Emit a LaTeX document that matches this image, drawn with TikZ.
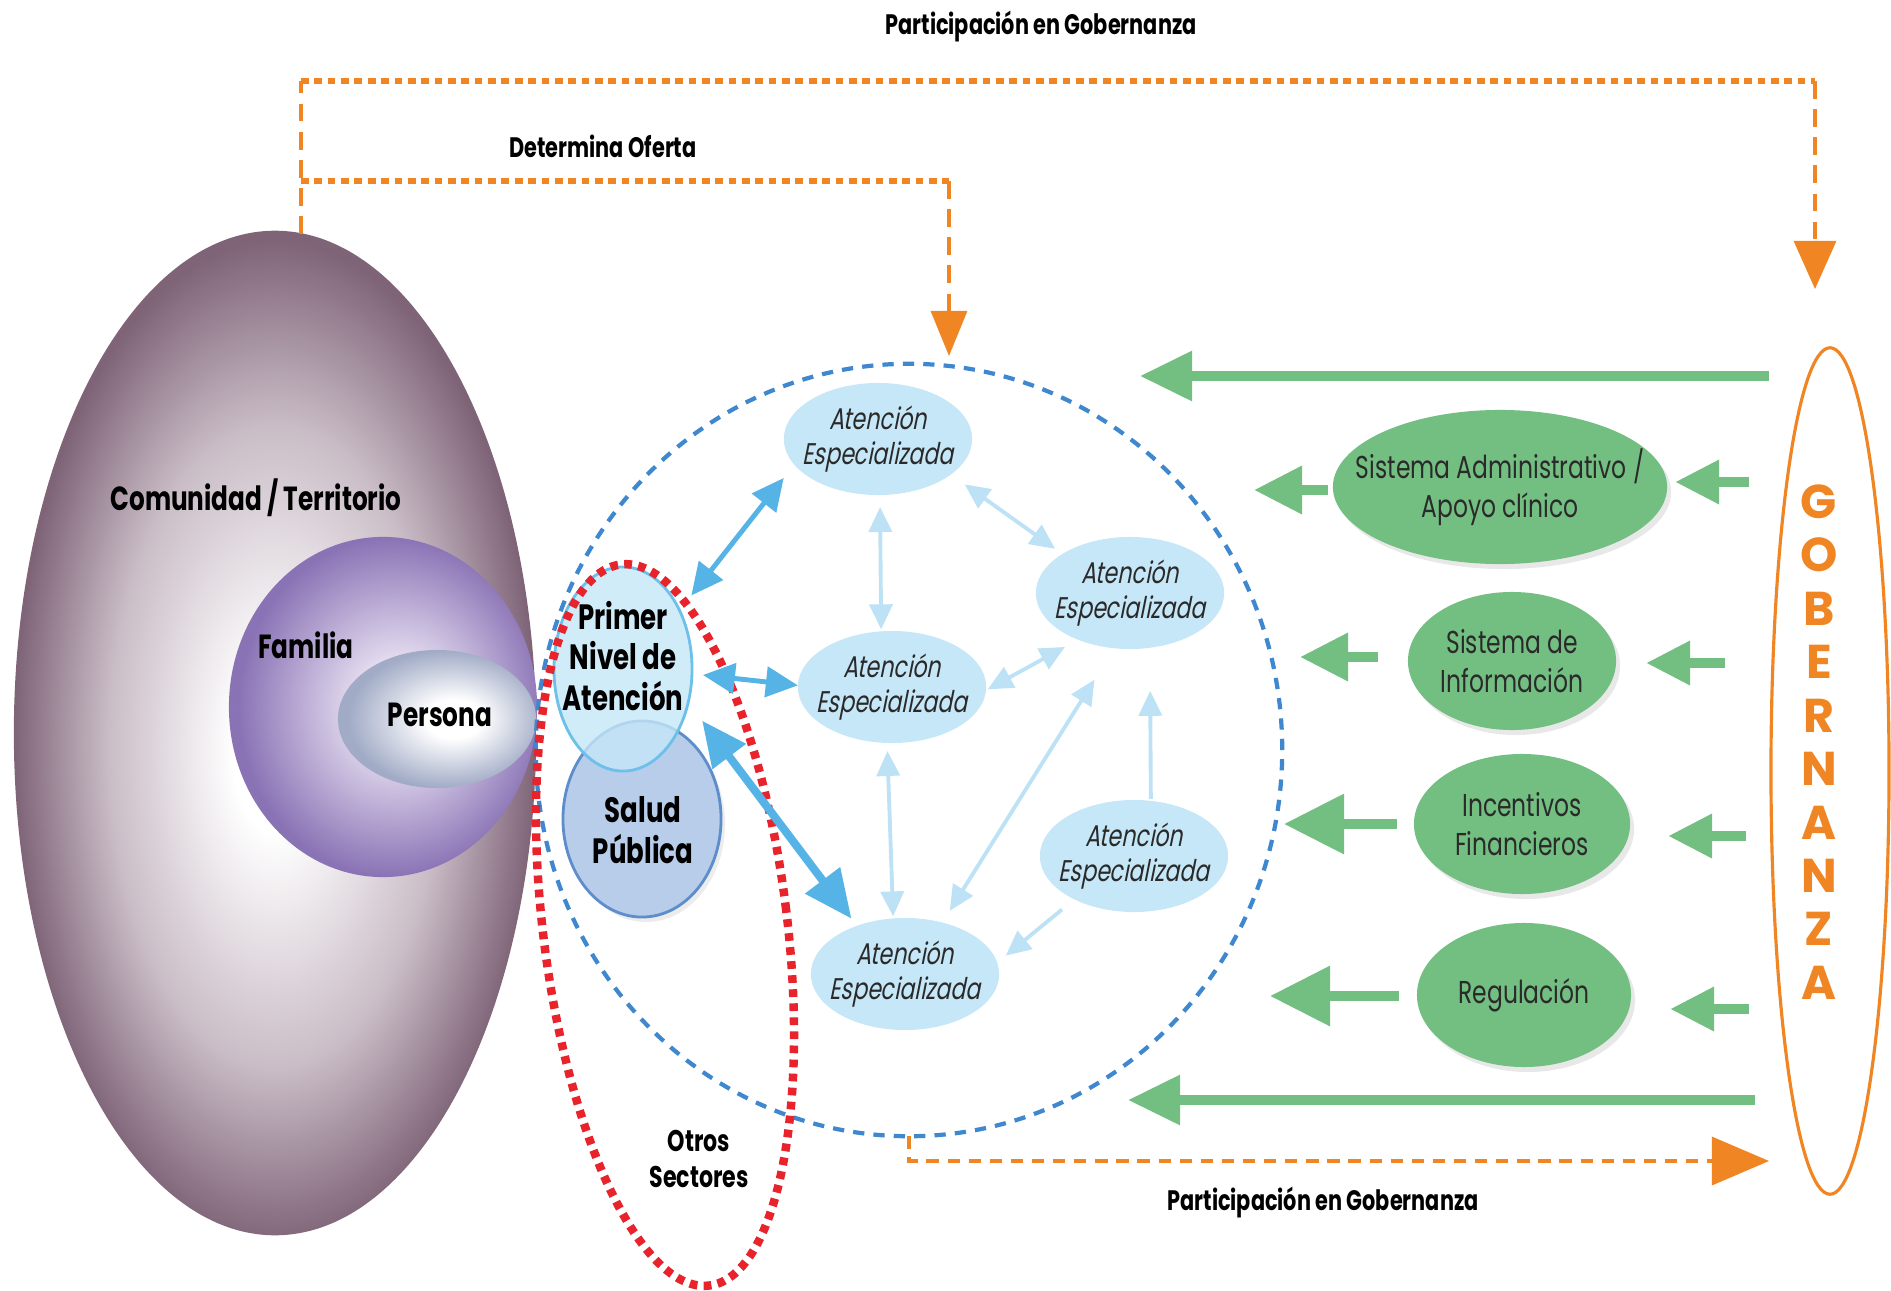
\documentclass[tikz,border=0pt]{standalone}
\usepackage{fontspec}
\setmainfont[FakeStretch=0.74]{Poppins}
\newfontfamily\slantfont[FakeSlant=0.2,FakeStretch=0.74]{Poppins}
\newfontfamily\wideFont{Poppins}
\usepackage{tikz}
\usetikzlibrary{arrows.meta, shapes.geometric, shadows, positioning}

\definecolor{comEdge}{HTML}{7F6478}
\definecolor{comMid}{HTML}{C9BCC6}
\definecolor{famEdge}{HTML}{8A73B5}
\definecolor{famIn}{HTML}{EEE8F6}
\definecolor{perEdge}{HTML}{A1ABC6}
\definecolor{atBlue}{HTML}{C6E7F7}
\definecolor{softBlue}{HTML}{BEE2F5}
\definecolor{primEdge}{HTML}{6DC0EA}
\definecolor{arrBlue}{HTML}{56B3E5}
\definecolor{circBlue}{HTML}{3F87CF}
\definecolor{salBlue}{HTML}{B7CDE9}
\definecolor{salEdge}{HTML}{5E8DCB}
\definecolor{secRed}{HTML}{E8232B}
\definecolor{govOrange}{HTML}{EF8523}
\definecolor{supGreen}{HTML}{73BF82}
\definecolor{txtGrey}{HTML}{2A2A2A}

\pgfdeclareradialshading{comShade}{\pgfpoint{0bp}{-1bp}}{color(0bp)=(white); color(4bp)=(white); color(16bp)=(comMid); color(25bp)=(comEdge); color(50bp)=(comEdge)}
\pgfdeclareradialshading{famShade}{\pgfpoint{3bp}{0bp}}{color(0bp)=(famIn); color(5bp)=(famIn); color(25bp)=(famEdge); color(50bp)=(famEdge)}
\pgfdeclareradialshading{perShade}{\pgfpoint{5bp}{0bp}}{color(0bp)=(white); color(7bp)=(white); color(25bp)=(perEdge); color(50bp)=(perEdge)}

\tikzset{
	blob/.style={ellipse, inner sep=0pt, outer sep=0pt},
	atNode/.style={blob, fill=atBlue, inner xsep=-0.09cm, minimum width=1.88cm, minimum height=1.12cm, align=center, text=txtGrey, font=\slantfont\fontsize{8.5}{10}\selectfont},
	supNode/.style={blob, fill=supGreen, align=center, text=txtGrey, font=\fontsize{9}{11}\selectfont, drop shadow={opacity=0.18, shadow xshift=0.04cm, shadow yshift=-0.05cm}},
	tag/.style={font=\bfseries\fontsize{8}{10}\selectfont, text=black, align=center},
	bigTag/.style={font=\bfseries\fontsize{9.5}{11.5}\selectfont, text=black, align=center},
	govLetters/.style={font=\wideFont\bfseries\fontsize{13.5}{15.2}\selectfont, text=govOrange, align=center},
	strongLink/.style={draw=arrBlue, line width=1.4pt, {Triangle[length=0.32cm, width=0.30cm]}-{Triangle[length=0.32cm, width=0.30cm]}},
	heavyLink/.style={draw=arrBlue, line width=2.3pt, {Triangle[length=0.45cm, width=0.40cm]}-{Triangle[length=0.48cm, width=0.42cm]}},
	softLink/.style={draw=softBlue, line width=1.1pt, {Triangle[length=0.25cm, width=0.23cm]}-{Triangle[length=0.25cm, width=0.23cm]}},
	softOne/.style={draw=softBlue, line width=1.1pt, -{Triangle[length=0.25cm, width=0.23cm]}},
	supArrow/.style={draw=supGreen, line width=2.8pt, -{Triangle[length=0.48cm, width=0.46cm]}},
	supIn/.style={draw=supGreen, line width=2.8pt, -{Triangle[length=0.44cm, width=0.42cm]}},
	supBig/.style={draw=supGreen, line width=2.8pt, -{Triangle[length=0.60cm, width=0.58cm]}},
	longArrow/.style={draw=supGreen, line width=2.6pt, -{Triangle[length=0.52cm, width=0.48cm]}},
	govLine/.style={draw=govOrange, line width=0.9pt, dash pattern=on 5pt off 3pt},
	govDots/.style={draw=govOrange, line width=1.5pt, dash pattern=on 2.2pt off 1.6pt}
}

\begin{document}
\begin{tikzpicture}[x=0.01cm, y=-0.01cm]
	\useasboundingbox (0, 0) rectangle (1891, 1291);

	\node (Comunidad) [blob, shade, shading=comShade, minimum width=5.22cm, minimum height=10.04cm] at (275, 733) {};
	\node (Familia) [blob, shade, shading=famShade, minimum width=3.08cm, minimum height=3.40cm] at (383, 707) {};
	\node (Persona) [blob, shade, shading=perShade, minimum width=1.98cm, minimum height=1.38cm] at (437, 719) {};
	\node (ComLabel) [bigTag] at (256, 498) {Comunidad / Territorio};
	\node (FamLabel) [bigTag] at (306, 645) {Familia};
	\node (PerLabel) [bigTag] at (440, 715) {Persona};

	\node (Salud) [blob, fill=salBlue, draw=salEdge, line width=0.8pt, minimum width=1.58cm, minimum height=1.96cm, drop shadow={opacity=0.15, shadow xshift=0.04cm, shadow yshift=-0.05cm}] at (642, 819) {};
	\node (Primer) [blob, fill=atBlue, fill opacity=0.8, draw=primEdge, line width=0.8pt, minimum width=1.38cm, minimum height=2.04cm] at (623, 669) {};
	\node (PrimerLabel) [bigTag, font=\bfseries\fontsize{10}{11.5}\selectfont] at (623, 656) {Primer\\Nivel de\\Atención};
	\node (SaludLabel) [bigTag, font=\bfseries\fontsize{10}{11.5}\selectfont] at (643, 830) {Salud\\Pública};

	\node (Integra) [blob, draw=circBlue, line width=1.2pt, dash pattern=on 3.2pt off 2.6pt, minimum width=7.46cm, minimum height=7.72cm] at (909, 750) {};
	\node (Sectores) [blob, draw=secRed, line width=2.4pt, dash pattern=on 2.2pt off 1.8pt, minimum width=2.44cm, minimum height=7.26cm, rotate=7] at (665, 925) {};
	\node (SecLabel) [tag, font=\bfseries\fontsize{8.5}{10.2}\selectfont] at (699, 1159) {Otros\\Sectores};

	\node (AtEspA) [atNode] at (878, 439) {Atención\\Especializada};
	\node (AtEspB) [atNode] at (1130, 593) {Atención\\Especializada};
	\node (AtEspC) [atNode] at (892, 687) {Atención\\Especializada};
	\node (AtEspD) [atNode] at (1134, 856) {Atención\\Especializada};
	\node (AtEspE) [atNode] at (905, 974) {Atención\\Especializada};

	\draw [strongLink, shorten <=0.19cm, shorten >=0.17cm] (Primer.46) -- (AtEspA.197);
	\draw [strongLink, shorten <=0.11cm] (Primer.-4) -- (AtEspC.179);
	\draw [heavyLink, shorten <=0.23cm, shorten >=0.09cm] (Primer.-27) -- (AtEspE.135);
	\draw [softLink, shorten <=0.12cm, shorten >=0.02cm] (AtEspA.-88) -- (AtEspC.101);
	\draw [softLink, shorten <=0.17cm, shorten >=0.09cm] (AtEspA.-26) -- (AtEspB.150);
	\draw [softLink, shorten <=0.02cm, shorten >=0.15cm] (AtEspC.-2) -- (AtEspB.222);
	\draw [softLink, shorten <=0.08cm, shorten >=0.02cm] (AtEspC.-95) -- (AtEspE.102);
	\draw [softLink, shorten <=0.14cm, shorten >=0.37cm] (AtEspE.54) -- (AtEspB.254);
	\draw [softOne, shorten <=0.02cm, shorten >=0.43cm] (AtEspD.73) -- (AtEspB.-70);
	\draw [softOne, shorten <=0.16cm, shorten >=0.11cm] (AtEspD.216) -- (AtEspE.7);

	\node (SisAdmin) [supNode, inner xsep=-0.26cm, minimum width=3.24cm, minimum height=1.54cm] at (1500, 487) {Sistema Administrativo /\\Apoyo clínico};
	\node (SisInfo) [supNode, minimum width=2.08cm, minimum height=1.38cm] at (1512, 661) {Sistema de\\Información};
	\node (Incent) [supNode, minimum width=2.16cm, minimum height=1.40cm] at (1522, 824) {Incentivos\\Financieros};
	\node (Regul) [supNode, minimum width=2.14cm, minimum height=1.44cm] at (1524, 995) {Regulación};

	\node (Gob) [blob, draw=govOrange, line width=0.9pt, minimum width=1.18cm, minimum height=8.46cm] at (1830, 771) {};
	\node (GobLabel) [govLetters] at (1819, 742) {G\\O\\B\\E\\R\\N\\A\\N\\Z\\A};

	\coordinate (AdminOut) at (1254, 490);
	\coordinate (InfoOut) at (1300, 657);
	\coordinate (IncentOut) at (1284, 824);
	\coordinate (RegulOut) at (1270, 996);
	\draw [supArrow, shorten <=0.05cm] (SisAdmin.west |- AdminOut) -- (AdminOut);
	\draw [supArrow, shorten <=0.30cm] (SisInfo.west |- InfoOut) -- (InfoOut);
	\draw [supBig, shorten <=0.17cm] (Incent.west |- IncentOut) -- (IncentOut);
	\draw [supBig, shorten <=0.18cm] (Regul.west |- RegulOut) -- (RegulOut);

	\coordinate (AdminIn) at (1749, 482);
	\coordinate (InfoIn) at (1725, 663);
	\coordinate (IncentIn) at (1746, 836);
	\coordinate (RegulIn) at (1749, 1009);
	\draw [supIn, shorten >=0.08cm] (AdminIn) -- (AdminIn -| SisAdmin.east);
	\draw [supIn, shorten >=0.30cm] (InfoIn) -- (InfoIn -| SisInfo.east);
	\draw [supIn, shorten >=0.38cm] (IncentIn) -- (IncentIn -| Incent.east);
	\draw [supIn, shorten >=0.39cm] (RegulIn) -- (RegulIn -| Regul.east);

	\coordinate (GovTopOut) at (1769, 376);
	\coordinate (GovTopIn) at (1140, 376);
	\draw [longArrow] (GovTopOut) -- (GovTopIn);
	\coordinate (GovBotOut) at (1755, 1100);
	\coordinate (GovBotIn) at (1128, 1100);
	\draw [longArrow] (GovBotOut) -- (GovBotIn);

	\coordinate (ComTop) at (301, 234);
	\coordinate (TopLeft) at (301, 81);
	\coordinate (TopRight) at (1815, 81);
	\coordinate (GovTip) at (1815, 289);
	\draw [govLine] (ComTop) -- (TopLeft);
	\draw [govDots] (TopLeft) -- (TopRight);
	\draw [govLine, -{Triangle[length=0.48cm, width=0.42cm]}] (TopRight) -- (GovTip);

	\coordinate (OfferLeft) at (301, 181);
	\coordinate (OfferRight) at (949, 181);
	\coordinate (OfferTip) at (949, 356);
	\draw [govDots] (OfferLeft) -- (OfferRight);
	\draw [govLine, -{Triangle[length=0.45cm, width=0.36cm]}] (OfferRight) -- (OfferTip);

	\coordinate (GovIn) at (1769, 1161);
	\draw [govLine, dash pattern=on 3.5pt off 2.5pt, -{Triangle[length=0.57cm, width=0.48cm]}] (Integra.south) |- (GovIn);

	\node (PartTop) [tag] at (1041, 27) {Participación en Gobernanza};
	\node (Oferta) [tag] at (603, 146) {Determina Oferta};
	\node (PartBottom) [tag] at (1323, 1202) {Participación en Gobernanza};
\end{tikzpicture}
\end{document}
